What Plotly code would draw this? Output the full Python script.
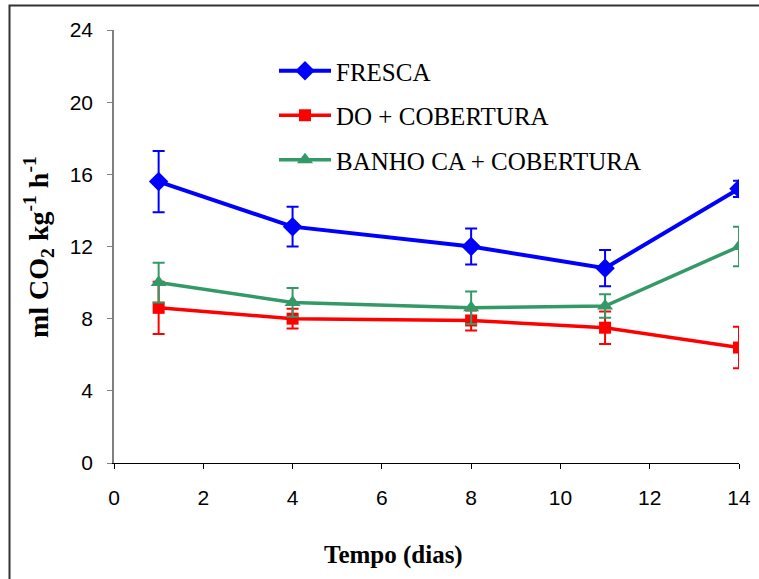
import plotly.graph_objects as go

dias = [1, 4, 8, 11, 14]

fresca = [15.6, 13.1, 12.0, 10.8, 15.2]
fresca_err = [1.7, 1.1, 1.0, 1.0, 0.45]

do_cob = [8.6, 8.0, 7.9, 7.5, 6.4]
do_cob_err = [1.45, 0.55, 0.55, 0.9, 1.15]

banho_cob = [10.0, 8.9, 8.6, 8.7, 12.0]
banho_cob_err = [1.1, 0.8, 0.9, 0.65, 1.1]

series = [
    ("FRESCA", fresca, fresca_err, "#0000FF", "diamond", 15, 4),
    ("DO + COBERTURA", do_cob, do_cob_err, "#FF0000", "square", 12, 3.5),
    ("BANHO CA + COBERTURA", banho_cob, banho_cob_err, "#339966", "triangle-up", 14, 3.5),
]

fig = go.Figure()
for i, (name, vals, errs, color, sym, msize, lw) in enumerate(series):
    fig.add_trace(go.Scatter(
        x=dias, y=vals, name=name, mode="lines+markers",
        legendgroup=f"g{i}",
        line=dict(color=color, width=lw),
        marker=dict(symbol=sym, size=msize, color=color),
        error_y=dict(type="data", array=errs, visible=True, color=color,
                     thickness=2, width=6),
    ))

W, H = 759, 579
L, R, T, B = 114, 20, 30, 116
pw, ph = W - L - R, H - T - B

def px(xp):
    return (xp - L) / pw

def py(yp):
    return (H - B - yp) / ph

fig.update_layout(
    width=W, height=H,
    margin=dict(l=L, r=R, t=T, b=B, autoexpand=False),
    paper_bgcolor="white", plot_bgcolor="white",
    showlegend=True,
    legend=dict(
        x=px(274), y=py(48), xanchor="left", yanchor="top",
        font=dict(family="Liberation Serif", size=25, color="black"),
        tracegroupgap=9, itemwidth=52, bgcolor="rgba(0,0,0,0)",
    ),
    xaxis=dict(
        range=[0, 14], dtick=2, tick0=0,
        showline=True, linecolor="black", linewidth=1,
        ticks="outside", ticklen=5, tickcolor="black",
        showgrid=False, zeroline=False,
        tickfont=dict(family="Liberation Sans", size=21, color="black"),
        ticklabelstandoff=11,
    ),
    yaxis=dict(
        range=[0, 24], dtick=4, tick0=0,
        showline=True, linecolor="#808080", linewidth=1.5,
        ticks="outside", ticklen=5, tickcolor="#808080",
        showgrid=False, zeroline=False,
        tickfont=dict(family="Liberation Sans", size=21, color="black"),
        ticklabelstandoff=10,
    ),
    shapes=[dict(
        type="rect", xref="paper", yref="paper",
        x0=px(9.5), x1=px(900), y0=py(900), y1=py(5.5),
        line=dict(color="#333333", width=2), fillcolor="rgba(0,0,0,0)",
    )],
    annotations=[
        dict(text="<b>Tempo (dias)</b>", xref="paper", yref="paper",
             x=px(393), y=py(555), xanchor="center", yanchor="middle",
             showarrow=False,
             font=dict(family="Liberation Serif", size=25, color="black")),
        dict(text="<b>ml CO<sub>2</sub> kg<sup>-1</sup> h<sup>-1</sup></b>",
             xref="paper", yref="paper", x=px(39), y=py(247),
             xanchor="center", yanchor="middle",
             textangle=-90, showarrow=False,
             font=dict(family="Liberation Serif", size=28, color="black")),
    ],
)

fig.write_html("out.html", config={"displayModeBar": False},
               post_script="document.body.style.margin='0';document.body.style.padding='0';")
